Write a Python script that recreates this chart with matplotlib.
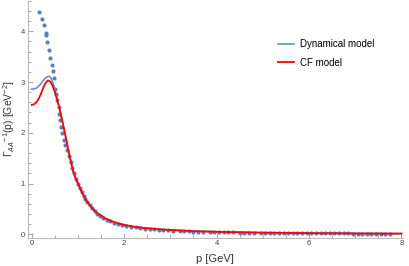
import matplotlib
matplotlib.use("Agg")
import matplotlib.pyplot as plt
from matplotlib.ticker import MultipleLocator

plt.rcParams['font.family'] = ['Liberation Sans', 'DejaVu Sans']
plt.rcParams['mathtext.fontset'] = 'custom'
plt.rcParams['mathtext.rm'] = 'Liberation Sans'
plt.rcParams['mathtext.it'] = 'Liberation Sans:italic'

# Lattice data points
data_p = [0.16, 0.22, 0.26, 0.30, 0.30, 0.34, 0.37, 0.40, 0.43, 0.45, 0.48,
          0.50, 0.525, 0.55, 0.58, 0.59, 0.61, 0.63, 0.66, 0.70, 0.73, 0.76,
          0.80, 0.84, 0.88, 0.91, 0.96, 1.00, 1.04, 1.08, 1.12, 1.15, 1.20,
          1.25, 1.30, 1.36, 1.42, 1.48, 1.55, 1.62, 1.70, 1.78, 1.86, 1.95,
          2.05, 2.15, 2.25, 2.35, 2.45, 2.55, 2.65, 2.75, 2.85, 2.95, 3.05,
          3.20, 3.30, 3.40, 3.50, 3.60, 3.70, 3.85, 3.95, 4.05, 4.15, 4.25,
          4.35, 4.50, 4.60, 4.70, 4.80, 4.95, 5.05, 5.15, 5.25, 5.35, 5.45,
          5.55, 5.65, 5.75, 5.85, 5.95, 6.05, 6.15, 6.25, 6.35, 6.45, 6.55,
          6.65, 6.75, 6.85, 6.95, 7.05, 7.15, 7.25, 7.35, 7.45, 7.55, 7.65,
          7.75]
data_y = [4.37, 4.25, 4.12, 3.96, 3.93, 3.79, 3.63, 3.48, 3.34, 3.21, 3.07,
          2.87, 2.77, 2.64, 2.51, 2.38, 2.25, 2.12, 1.99, 1.86, 1.76, 1.66,
          1.54, 1.43, 1.30, 1.20, 1.09, 1.00, 0.92, 0.84, 0.76, 0.70, 0.63,
          0.57, 0.51, 0.46, 0.41, 0.37, 0.33, 0.29, 0.26, 0.23, 0.21, 0.185,
          0.165, 0.15, 0.135, 0.125, 0.115, 0.105, 0.098, 0.090, 0.084, 0.078, 0.073,
          0.066, 0.062, 0.058, 0.055, 0.052, 0.050, 0.046, 0.044, 0.042, 0.040, 0.039,
          0.037, 0.035, 0.034, 0.032, 0.031, 0.030, 0.029, 0.028, 0.027, 0.026, 0.025,
          0.024, 0.024, 0.023, 0.022, 0.022, 0.021, 0.020, 0.020, 0.019, 0.019, 0.018,
          0.018, 0.017, 0.017, 0.016, 0.016, 0.016, 0.015, 0.015, 0.015, 0.014, 0.014,
          0.014]

# Dynamical model curve
dyn_p = [0.0, 0.05, 0.10, 0.15, 0.20, 0.25, 0.30, 0.35, 0.38, 0.42, 0.45, 0.50,
         0.55, 0.60, 0.65, 0.70, 0.75, 0.80, 0.85, 0.90, 0.95, 1.00, 1.10, 1.20,
         1.30, 1.40, 1.50, 1.60, 1.80, 2.00, 2.25, 2.50, 2.75, 3.00, 3.50, 4.00,
         5.00, 6.00, 7.00, 8.00]
dyn_y = [2.86, 2.865, 2.88, 2.92, 2.97, 3.03, 3.08, 3.11, 3.11, 3.07, 3.01, 2.86,
         2.68, 2.49, 2.28, 2.07, 1.85, 1.62, 1.42, 1.23, 1.10, 1.00, 0.80, 0.64,
         0.52, 0.43, 0.37, 0.31, 0.235, 0.185, 0.145, 0.120, 0.100, 0.085, 0.063, 0.050,
         0.033, 0.024, 0.018, 0.014]

# CF model curve
cf_p = [0.0, 0.05, 0.10, 0.15, 0.20, 0.25, 0.30, 0.35, 0.40, 0.45, 0.50,
        0.55, 0.60, 0.65, 0.70, 0.75, 0.80, 0.85, 0.90, 0.95, 1.00, 1.10, 1.20,
        1.30, 1.40, 1.50, 1.60, 1.80, 2.00, 2.25, 2.50, 2.75, 3.00, 3.50, 4.00,
        5.00, 6.00, 7.00, 8.00]
cf_y = [2.55, 2.56, 2.60, 2.67, 2.77, 2.89, 2.98, 3.03, 3.01, 2.93, 2.80,
        2.65, 2.48, 2.28, 2.07, 1.85, 1.62, 1.42, 1.23, 1.10, 1.00, 0.80, 0.64,
        0.52, 0.43, 0.37, 0.31, 0.235, 0.185, 0.145, 0.120, 0.100, 0.085, 0.063, 0.050,
        0.033, 0.024, 0.018, 0.014]

x_ticks = [0, 2, 4, 6, 8]
y_ticks = [0, 1, 2, 3, 4]

fig = plt.figure(figsize=(4.10, 2.66), dpi=100)
ax = fig.add_axes([0.0676, 0.107, 0.915, 0.89])

blue = '#5E81B5'
ax.scatter(data_p, data_y, s=9, color=blue, linewidths=0, zorder=2)
ax.plot(dyn_p, dyn_y, color='#6F8FC4', lw=1.2, zorder=3, label='Dynamical model')
ax.plot(cf_p, cf_y, color='#FF0000', lw=1.3, zorder=4, label='CF model')

ax.set_xlim(-0.087, 8.03)
ax.set_ylim(-0.063, 4.6)
ax.set_xticks(x_ticks)
ax.set_yticks(y_ticks)
ax.xaxis.set_minor_locator(MultipleLocator(0.5))
ax.yaxis.set_minor_locator(MultipleLocator(0.2))

for s in ['top', 'right']:
    ax.spines[s].set_visible(False)
for s in ['left', 'bottom']:
    ax.spines[s].set_color('#BBBBBB')
    ax.spines[s].set_linewidth(0.8)
ax.tick_params(which='both', direction='in', color='#999999', labelsize=5.5,
               labelcolor='#444444', width=0.6, pad=2)
ax.tick_params(which='major', length=3.5)
ax.tick_params(which='minor', length=2)

ax.set_xlabel('p [GeV]', fontsize=8, color='#333333', labelpad=5)
ax.set_ylabel(r'$\Gamma_{AA}{}^{-1}$(p) [GeV$^{-2}$]', fontsize=7.5, color='#333333', labelpad=3)

leg = ax.legend(loc='upper left', bbox_to_anchor=(0.645, 0.875), frameon=False,
                fontsize=7, handlelength=1.6, handletextpad=0.6, labelspacing=0.9)

fig.savefig('out.png', dpi=100)
